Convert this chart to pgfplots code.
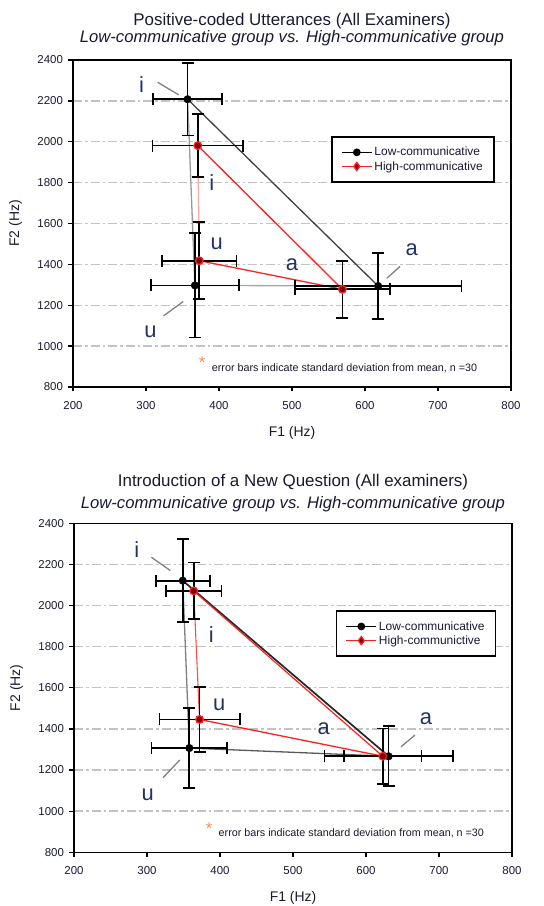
\documentclass[border=0pt]{standalone}
\usepackage{fontspec}
\setmainfont{Liberation Sans}
\usepackage{pgfplots}
\pgfplotsset{compat=1.18}
\usepackage{pgfplotstable}

\definecolor{vowel}{RGB}{35,50,100}
\definecolor{star}{RGB}{250,140,90}
\definecolor{hired}{RGB}{255,30,30}
\definecolor{hifill}{RGB}{120,0,0}
\definecolor{gridgray}{RGB}{195,195,195}
\definecolor{txt}{RGB}{25,25,50}

% Positive-coded utterances
\pgfplotstableread{
f1  f2   ex  ey
357 2208 47  178
367 1297 60  255
618 1294 114 162
}\lowpos
\pgfplotstableread{
f1  f2   ex  ey
371 1981 62  154
373 1418 51  188
569 1278 65  139
}\highpos

% Introduction of a new question
\pgfplotstableread{
f1  f2   ex  ey
349 2121 37  202
358 1307 52  195
631 1267 88  146
}\lownew
\pgfplotstableread{
f1  f2   ex  ey
364 2071 38  138
372 1446 55  158
623 1267 53  135
}\highnew

\tikzset{
  vlab/.style={text=vowel, font=\fontsize{22}{24}\selectfont},
  lead/.style={gray, line width=1.3bp},
}
\pgfplotsset{
  vowelplot/.style={
    scale only axis, width=438bp,
    xmin=200, xmax=800, ymin=800, ymax=2400,
    xtick={200,300,...,800}, ytick={800,1000,...,2400},
    tick align=outside, major tick length=4.5bp,
    xtick pos=bottom, ytick pos=left,
    axis line style={line width=1.5bp},
    every tick/.style={black, line width=1.3bp},
    ymajorgrids,
    major grid style={gridgray, line width=1.4bp, dash pattern=on 9bp off 3bp on 2.5bp off 3bp},
    tick label style={font=\fontsize{11.5}{13}\selectfont, text=txt},
    /pgf/number format/assume math mode=true,
    /pgf/number format/set thousands separator={},
    xticklabel style={yshift=-6bp},
    yticklabel style={xshift=-2bp},
    xlabel={F1 (Hz)}, ylabel={F2 (Hz)},
    label style={font=\fontsize{14}{16}\selectfont, text=txt},
    xlabel style={at={(axis description cs:0.5,-0.15)}, anchor=base},
    ylabel style={at={(axis description cs:-0.123,0.5)}, anchor=base},
    legend style={draw=black, line width=1.5bp, font=\fontsize{12}{14}\selectfont,
      text=txt, anchor=north west, inner xsep=9bp, inner ysep=8.5bp, row sep=0bp,
      cells={anchor=west}},
    legend image code/.code={\draw[mark repeat=2,mark phase=2]
      plot coordinates {(0bp,0bp) (15bp,0bp) (30bp,0bp)};},
    clip=false,
  },
  errs/.style={
    /pgfplots/error bars/x dir=both, /pgfplots/error bars/x explicit,
    /pgfplots/error bars/y dir=both, /pgfplots/error bars/y explicit,
    /pgfplots/error bars/error bar style={black, line width=1.7bp},
    /pgfplots/error bars/error mark options={rotate=90, black, line width=1.7bp, mark size=6bp}},
}

\begin{document}
\begin{tikzpicture}
\path[use as bounding box] (0,0) rectangle (544bp,906bp);

% ---------- top chart ----------
\begin{axis}[vowelplot, height=327bp, at={(73bp,519bp)}, anchor=south west,
  legend style={at={(axis description cs:0.59,0.7675)}}]
\addlegendimage{black, line width=1.3bp, mark=*, mark size=3.2bp}
\addlegendentry{Low-communicative}
\addlegendimage{hired, line width=1.3bp, mark=diamond*, mark size=4bp, mark options={fill=hifill, draw=hired}}
\addlegendentry{High-communicative}

% triangle sides
\addplot[black!75, line width=1.3bp, forget plot] table[x=f1,y=f2, skip coords between index={1}{2}]{\lowpos};
\addplot[black!40, line width=1.3bp, forget plot] table[x=f1,y=f2, skip coords between index={2}{3}]{\lowpos};
\addplot[black!35, line width=1.3bp, forget plot] table[x=f1,y=f2, skip coords between index={0}{1}]{\lowpos};
\addplot[hired, line width=1.3bp, forget plot] table[x=f1,y=f2, skip coords between index={1}{2}]{\highpos};
\addplot[hired!40, line width=1.3bp, forget plot] table[x=f1,y=f2, skip coords between index={2}{3}]{\highpos};
\addplot[hired, line width=1.3bp, forget plot] table[x=f1,y=f2, skip coords between index={0}{1}]{\highpos};

% means with standard deviations
\addplot[forget plot, only marks, mark=*, mark size=3.8bp, black, errs]
  table[x=f1,y=f2,x error=ex,y error=ey]{\lowpos};
\addplot[forget plot, only marks, mark=*, mark size=3.8bp, mark options={fill=hifill, draw=hired, line width=1.3bp}, errs]
  table[x=f1,y=f2,x error=ex,y error=ey]{\highpos};

% vowel labels
\node[vlab] at (axis cs:294,2278) {i};
\draw[lead] (axis cs:316,2291) -- (axis cs:345,2229);
\node[vlab] at (axis cs:390,1800) {i};
\node[vlab] at (axis cs:397,1503) {u};
\node[vlab] at (axis cs:306,1071) {u};
\draw[lead] (axis cs:324,1148) -- (axis cs:351,1218);
\node[vlab] at (axis cs:500,1397) {a};
\node[vlab] at (axis cs:664,1470) {a};
\draw[lead] (axis cs:630,1332) -- (axis cs:648,1390);

\node[text=star, font=\fontsize{17}{17}\selectfont] at (axis cs:377,919) {*};
\node[anchor=west, inner sep=0pt, text=txt, font=\fontsize{10.8}{12}\selectfont] at (axis cs:390,892)
  {error bars indicate standard deviation from mean, n =30};

\node[anchor=base, text=txt, font=\fontsize{17}{20}\selectfont] at (axis description cs:0.5,1.107)
  {Positive-coded Utterances (All Examiners)};
\node[anchor=base, text=txt, font=\fontsize{16.7}{20}\selectfont\itshape] at (axis description cs:0.5,1.052)
  {Low-communicative group vs. High-communicative group};
\end{axis}

% ---------- bottom chart ----------
\begin{axis}[vowelplot, height=329bp, at={(74bp,53.7bp)}, anchor=south west,
  legend style={at={(axis description cs:0.598,0.736)}}]
\addlegendimage{black, line width=1.3bp, mark=*, mark size=3.2bp}
\addlegendentry{Low-communicative}
\addlegendimage{hired, line width=1.3bp, mark=diamond*, mark size=4bp, mark options={fill=hifill, draw=hired}}
\addlegendentry{High-communictive}

\addplot[black!85, line width=1.7bp, forget plot] table[x=f1,y=f2, skip coords between index={1}{2}]{\lownew};
\addplot[black!50, line width=1.3bp, forget plot] table[x=f1,y=f2, skip coords between index={2}{3}]{\lownew};
\addplot[black!65, line width=1.3bp, forget plot] table[x=f1,y=f2, skip coords between index={0}{1}]{\lownew};
\addplot[hired, line width=1.2bp, forget plot] table[x=f1,y=f2, skip coords between index={1}{2}]{\highnew};
\addplot[hired!80, line width=1.1bp, forget plot] table[x=f1,y=f2, skip coords between index={2}{3}]{\highnew};
\addplot[hired, line width=1.3bp, forget plot] table[x=f1,y=f2, skip coords between index={0}{1}]{\highnew};

\addplot[forget plot, only marks, mark=*, mark size=3.8bp, black, errs]
  table[x=f1,y=f2,x error=ex,y error=ey]{\lownew};
\addplot[forget plot, only marks, mark=*, mark size=3.8bp, mark options={fill=hifill, draw=hired, line width=1.3bp}, errs]
  table[x=f1,y=f2,x error=ex,y error=ey]{\highnew};

\node[vlab] at (axis cs:286,2274) {i};
\draw[lead] (axis cs:306,2235) -- (axis cs:332,2170);
\node[vlab] at (axis cs:388,1857) {i};
\node[vlab] at (axis cs:399,1516) {u};
\node[vlab] at (axis cs:301,1078) {u};
\draw[lead] (axis cs:322,1163) -- (axis cs:345,1249);
\node[vlab] at (axis cs:542,1399) {a};
\node[vlab] at (axis cs:682,1452) {a};
\draw[lead] (axis cs:648,1313) -- (axis cs:667,1370);

\node[text=star, font=\fontsize{17}{17}\selectfont] at (axis cs:385,917) {*};
\node[anchor=west, inner sep=0pt, text=txt, font=\fontsize{10.8}{12}\selectfont] at (axis cs:398,893)
  {error bars indicate standard deviation from mean, n =30};

\node[anchor=base, text=txt, font=\fontsize{17}{20}\selectfont] at (axis description cs:0.5,1.111)
  {Introduction of a New Question (All examiners)};
\node[anchor=base, text=txt, font=\fontsize{16.7}{20}\selectfont\itshape] at (axis description cs:0.5,1.046)
  {Low-communicative group vs. High-communicative group};
\end{axis}
\end{tikzpicture}
\end{document}
